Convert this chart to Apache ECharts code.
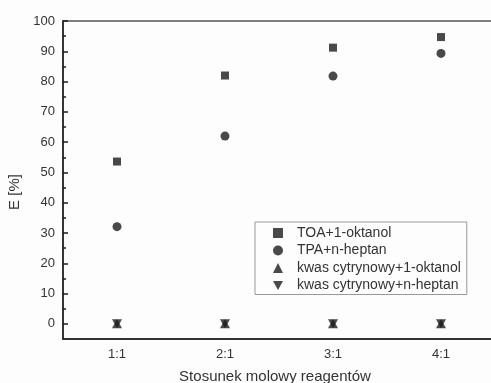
<!DOCTYPE html>
<html>
<head>
<meta charset="utf-8">
<script src="https://cdn.jsdelivr.net/npm/echarts@6/dist/echarts.min.js"></script>
<style>
html, body { margin: 0; padding: 0; background: #fdfdfd; }
#chart { width: 491px; height: 383px; }
</style>
</head>
<body>
<div id="chart"></div>
<script>
var categories = ['1:1', '2:1', '3:1', '4:1'];
var toaOktanol = [53.6, 82.0, 91.2, 94.7];
var tpaHeptan = [32.1, 62.0, 81.8, 89.3];
var cytrOktanol = [0, 0, 0, 0];
var cytrHeptan = [0, 0, 0, 0];
var yMajorTicks = [0, 10, 20, 30, 40, 50, 60, 70, 80, 90, 100];
var yMinorTicks = [5, 15, 25, 35, 45, 55, 65, 75, 85, 95];

var myChart = echarts.init(document.getElementById('chart'));
var font = 'Liberation Sans, Arial, sans-serif';
var ink = '#1c1c1c';
var downTriangle = 'path://M0,0 L10,0 L5,9 Z';

var option = {
    backgroundColor: '#fdfdfd',
    animation: false,
    textStyle: { fontFamily: font },
    grid: {
        left: 63,
        top: 21,
        width: 432,
        height: 318,
        outerBoundsMode: 'none',
        containLabel: false,
        show: true,
        borderColor: '#555',
        borderWidth: 1.5,
        backgroundColor: 'transparent'
    },
    legend: {
        orient: 'vertical',
        left: 255,
        top: 222,
        padding: [4, 6, 2, 18],
        itemWidth: 10,
        itemHeight: 10,
        itemGap: 3.5,
        borderColor: '#999',
        borderWidth: 1,
        backgroundColor: '#fdfdfd',
        textStyle: { fontFamily: font, fontSize: 14, color: '#333', padding: [0, 0, 0, 9] },
        data: ['TOA+1-oktanol', 'TPA+n-heptan', 'kwas cytrynowy+1-oktanol', 'kwas cytrynowy+n-heptan']
    },
    xAxis: {
        type: 'category',
        data: categories,
        name: 'Stosunek molowy reagentów',
        nameLocation: 'middle',
        nameGap: 30,
        nameTextStyle: { fontFamily: font, fontSize: 15, color: '#333', padding: [0, 8, 0, 0] },
        axisLine: { onZero: false, lineStyle: { color: ink, width: 1.5 } },
        axisTick: { inside: true, alignWithLabel: true, length: 5, lineStyle: { color: ink, width: 1.5 } },
        axisLabel: { fontFamily: font, fontSize: 13, color: '#333', margin: 9 },
        splitLine: { show: false }
    },
    yAxis: [{
        type: 'value',
        min: -5,
        max: 100,
        name: 'E [%]',
        nameLocation: 'middle',
        nameGap: 37,
        nameTextStyle: { fontFamily: font, fontSize: 15, color: '#333', padding: [0, 24, 0, 0] },
        axisLine: { show: true, onZero: false, lineStyle: { color: ink, width: 1.5 } },
        axisTick: { show: true, inside: true, length: 5, customValues: yMajorTicks, lineStyle: { color: ink, width: 1.5 } },
        axisLabel: { fontFamily: font, fontSize: 13, color: '#333', margin: 8, customValues: yMajorTicks },
        splitLine: { show: false }
    }, {
        type: 'value',
        position: 'left',
        min: -5,
        max: 100,
        axisLine: { show: false },
        axisTick: { show: true, inside: true, length: 3, customValues: yMinorTicks, lineStyle: { color: ink, width: 1.5 } },
        axisLabel: { show: false },
        splitLine: { show: false }
    }],
    series: [{
        name: 'TOA+1-oktanol',
        type: 'scatter',
        symbol: 'rect',
        symbolSize: 8,
        itemStyle: { color: ink },
        data: toaOktanol
    }, {
        name: 'TPA+n-heptan',
        type: 'scatter',
        symbol: 'circle',
        symbolSize: 9,
        itemStyle: { color: ink },
        data: tpaHeptan
    }, {
        name: 'kwas cytrynowy+1-oktanol',
        type: 'scatter',
        symbol: 'triangle',
        symbolSize: [10, 9],
        itemStyle: { color: ink },
        data: cytrOktanol
    }, {
        name: 'kwas cytrynowy+n-heptan',
        type: 'scatter',
        symbol: downTriangle,
        symbolSize: [10, 9],
        itemStyle: { color: ink },
        data: cytrHeptan
    }]
};

myChart.setOption(option);
</script>
</body>
</html>
